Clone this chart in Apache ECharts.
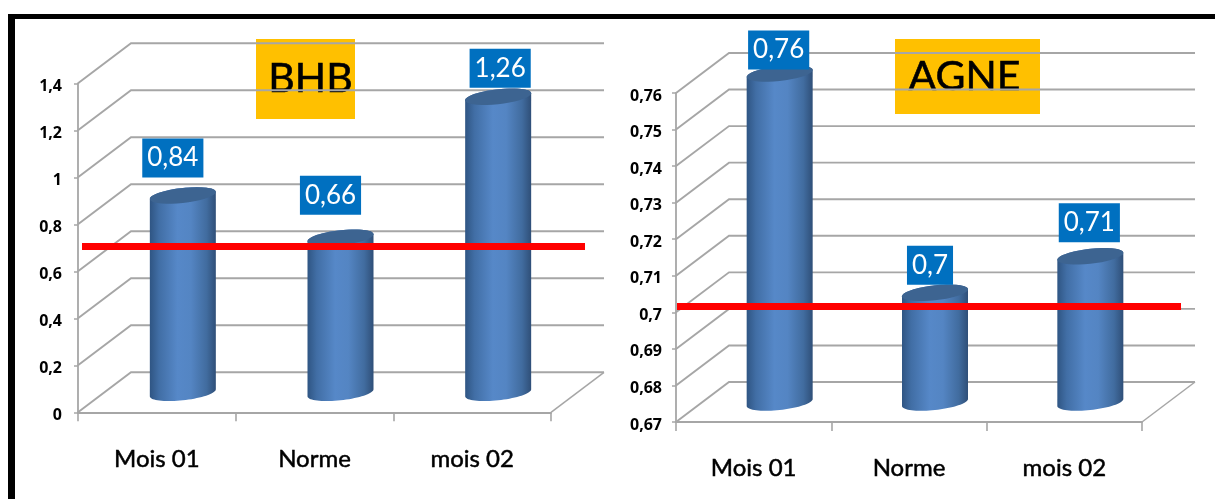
<!DOCTYPE html>
<html>
<head>
<meta charset="utf-8">
<style>html,body{margin:0;padding:0;background:#fff}#chart{width:1215px;height:499px}</style>
<script src="https://cdn.jsdelivr.net/npm/echarts@6/dist/echarts.min.js"></script>
</head>
<body>
<div id="chart"></div>
<script>
// Values per panel
const categories = ['Mois 01', 'Norme', 'mois 02'];
const bhbValues = [0.84, 0.66, 1.26];
const agneValues = [0.76, 0.7, 0.71];
const bhbTicks = [0, 0.2, 0.4, 0.6, 0.8, 1, 1.2, 1.4];
const agneTicks = [0.67, 0.68, 0.69, 0.7, 0.71, 0.72, 0.73, 0.74, 0.75, 0.76];
const bhbReference = 0.706;
const agneReference = 0.7016;

// Layout of the callouts relative to each bar's centre and value height
const bhbCalloutShift = [[-10, -57], [-10, -62], [2, -48]];
const agneCalloutShift = [[-1, -43], [-5, -47], [-1, -53]];

const GRID_LINE = '#a6a6a6';
const DEPTH_X = 53, DEPTH_Y = 40;       // receding offset of the back wall
const BAR_RX = 33, BAR_TILT = 3.5, BAR_RY = 7.5, BAR_LIFT = 19.5;
const SANS = 'Lato, "Open Sans", sans-serif';

const decimal = v => String(+(+v).toFixed(2)).replace('.', ',');

function ellipsePoints(cx, cy, from, to) {
  const pts = [];
  for (let i = 0; i <= 36; i++) {
    const t = from + (to - from) * i / 36;
    pts.push([cx + BAR_RX * Math.cos(t), cy - BAR_TILT * Math.cos(t) + BAR_RY * Math.sin(t)]);
  }
  return pts;
}

// Back wall: each tick climbs from the value axis into a horizontal line behind the bars
function renderWall(params, api) {
  const cs = params.coordSys;
  const y = api.coord([0, api.value(1)])[1];
  const x0 = cs.x, right = cs.x + cs.width + DEPTH_X;
  const children = [{
    type: 'polyline',
    shape: { points: [[x0, y], [x0 + DEPTH_X, y - DEPTH_Y], [right, y - DEPTH_Y]] },
    style: { stroke: GRID_LINE, lineWidth: 1.9, fill: null }
  }];
  if (params.dataIndex === 0) {
    children.push({
      type: 'line',
      shape: { x1: right, y1: y - DEPTH_Y, x2: cs.x + cs.width, y2: y },
      style: { stroke: GRID_LINE, lineWidth: 1.5 }
    });
  }
  return { type: 'group', children };
}

// Cylinder standing on the floor, shaded across its width
function renderBar(params, api) {
  const cat = api.value(0);
  const top = api.coord([cat, api.value(1)]);
  const floor = api.coord([cat, api.value(2)]);
  const cx = top[0] + 26;
  const topY = top[1] - BAR_LIFT, floorY = floor[1] - BAR_LIFT;
  const body = ellipsePoints(cx, floorY, Math.PI, 0)
    .concat(ellipsePoints(cx, topY, 0, -Math.PI));
  return {
    type: 'group',
    children: [{
      type: 'polygon',
      shape: { points: body },
      style: {
        fill: new echarts.graphic.LinearGradient(0, 0, 1, 0, [
          { offset: 0, color: '#2f5583' },
          { offset: 0.14, color: '#416ea5' },
          { offset: 0.42, color: '#5688c8' },
          { offset: 0.62, color: '#5485c3' },
          { offset: 0.86, color: '#416c9f' },
          { offset: 1, color: '#2f4f78' }
        ])
      }
    }, {
      type: 'polygon',
      shape: { points: ellipsePoints(cx, topY, 0, Math.PI * 2) },
      style: { fill: '#3d6491' }
    }]
  };
}

function renderCallout(shifts) {
  return function (params, api) {
    const pos = api.coord([api.value(0), api.value(1)]);
    const shift = shifts[params.dataIndex];
    return {
      type: 'text',
      style: {
        x: pos[0] + 26 + shift[0],
        y: pos[1] + shift[1],
        text: decimal(api.value(1)),
        fill: '#fff',
        font: '26px ' + SANS,
        align: 'center',
        verticalAlign: 'middle',
        backgroundColor: '#0070c0',
        padding: [6, 5, 7, 5]
      }
    };
  };
}

// Reference line laid across the panel, a little wider than the axis
function renderReference(startGap, endGap) {
  return function (params, api) {
    const cs = params.coordSys;
    const y = api.coord([0, api.value(1)])[1];
    return {
      type: 'line',
      shape: { x1: cs.x + startGap, y1: y, x2: cs.x + cs.width + endGap, y2: y },
      style: { stroke: '#ff0000', lineWidth: 7 }
    };
  };
}

function panelSeries(index, values, ticks, base, reference, shifts, startGap, endGap) {
  const axes = { xAxisIndex: index, yAxisIndex: index, clip: false };
  return [
    Object.assign({ type: 'custom', z: 1, silent: true, renderItem: renderWall,
      encode: { x: 0, y: 1 }, data: ticks.map(t => [0, t]) }, axes),
    Object.assign({ type: 'custom', z: 2, renderItem: renderBar,
      encode: { x: 0, y: 1 }, data: values.map((v, i) => [i, v, base]) }, axes),
    Object.assign({ type: 'custom', z: 3, silent: true, renderItem: renderReference(startGap, endGap),
      encode: { x: 0, y: 1 }, data: [[0, reference]] }, axes),
    Object.assign({ type: 'custom', z: 4, silent: true, renderItem: renderCallout(shifts),
      encode: { x: 0, y: 1 }, data: values.map((v, i) => [i, v]) }, axes)
  ];
}

function xAxis(gridIndex, margin) {
  return {
    type: 'category', gridIndex, data: categories,
    axisLine: { lineStyle: { color: GRID_LINE, width: 1.9 } },
    axisTick: { show: true, length: 9, lineStyle: { color: GRID_LINE, width: 1.6 } },
    axisLabel: {
      color: '#000', fontFamily: SANS, fontSize: 24, margin, interval: 0,
      textBorderColor: '#000', textBorderWidth: 0.5
    },
    splitLine: { show: false }
  };
}

function yAxis(gridIndex, ticks, margin) {
  return {
    type: 'value', gridIndex,
    min: ticks[0], max: ticks[ticks.length - 1],
    interval: +(ticks[1] - ticks[0]).toFixed(2),
    axisLine: { show: true, lineStyle: { color: GRID_LINE, width: 1.8 } },
    axisTick: { show: true, length: 4, lineStyle: { color: GRID_LINE, width: 1.5 } },
    splitLine: { show: false },
    axisLabel: {
      color: '#000', fontFamily: '"Open Sans", sans-serif', fontWeight: 'bold', fontSize: 16,
      margin, formatter: decimal, showMinLabel: true, showMaxLabel: true, hideOverlap: false,
      verticalAlign: 'top', lineHeight: 6
    }
  };
}

function badge(x, y, width, height, text, textShift) {
  return {
    type: 'group',
    z: 5,
    children: [
      { type: 'rect', shape: { x, y, width, height }, style: { fill: '#ffc000' } },
      {
        type: 'text',
        style: {
          x: x + width / 2 + textShift, y: y + height / 2, text,
          fill: '#000', font: '41px ' + SANS, align: 'center', verticalAlign: 'middle',
          stroke: '#000', lineWidth: 0.6
        }
      }
    ]
  };
}

const chart = echarts.init(document.getElementById('chart'), null, { renderer: 'canvas' });
chart.setOption({
  animation: false,
  backgroundColor: '#fff',
  tooltip: { show: false },
  grid: [
    { left: 78, top: 83.3, width: 473, height: 329 },
    { left: 676, top: 93, width: 466, height: 329 }
  ],
  xAxis: [xAxis(0, 35), xAxis(1, 34)],
  yAxis: [yAxis(0, bhbTicks, 16), yAxis(1, agneTicks, 14)],
  series: [
    ...panelSeries(0, bhbValues, bhbTicks, 0, bhbReference, bhbCalloutShift, 4, 34),
    ...panelSeries(1, agneValues, agneTicks, 0.67, agneReference, agneCalloutShift, 1, 39)
  ],
  graphic: [
    { type: 'rect', z: 6, shape: { x: 8, y: 14, width: 1207, height: 5 }, style: { fill: '#000' } },
    { type: 'rect', z: 6, shape: { x: 8, y: 14, width: 7, height: 485 }, style: { fill: '#000' } },
    badge(256, 39, 99, 80, 'BHB', 5),
    badge(895, 39, 145, 75, 'AGNE', -3)
  ]
});
</script>
</body>
</html>
